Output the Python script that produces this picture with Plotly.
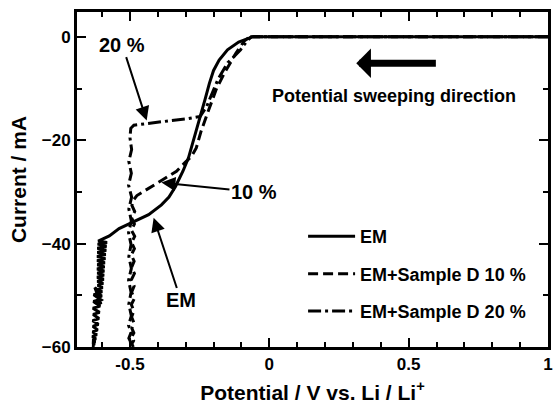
import plotly.graph_objects as go

# Linear sweep voltammetry curves (potential in V vs. Li/Li+, current in mA)
em_x = [1.0, -0.060, -0.070, -0.110, -0.150, -0.180, -0.200, -0.215, -0.230,
        -0.245, -0.260, -0.273, -0.290, -0.310, -0.337, -0.360, -0.387, -0.433,
        -0.493, -0.539, -0.574, -0.603,
        -0.614, -0.582, -0.616, -0.584, -0.617, -0.585, -0.617, -0.587, -0.618,
        -0.588, -0.618, -0.590, -0.617, -0.591, -0.618, -0.592, -0.617, -0.593,
        -0.618, -0.594, -0.617, -0.596, -0.616, -0.598, -0.617, -0.600, -0.616,
        -0.601, -0.615, -0.603, -0.614, -0.604, -0.626, -0.605, -0.630, -0.606,
        -0.631, -0.607, -0.633, -0.609, -0.632, -0.611, -0.634, -0.613, -0.633,
        -0.616, -0.634, -0.619, -0.635, -0.622, -0.634, -0.624, -0.635, -0.626,
        -0.634, -0.628, -0.635, -0.630, -0.634]
em_y = [0.0, 0.0, -0.2, -1.0, -2.5, -4.5, -6.5, -9.0, -12.0,
        -14.8, -17.5, -20.2, -23.4, -26.0, -29.0, -31.0, -32.5, -34.4,
        -35.9, -37.1, -38.5, -39.2,
        -39.5, -39.8, -40.1, -40.5, -40.9, -41.3, -41.7, -42.1, -42.5,
        -42.9, -43.3, -43.7, -44.1, -44.5, -44.9, -45.3, -45.7, -46.1,
        -46.5, -46.9, -47.3, -47.7, -48.1, -48.5, -48.9, -49.3, -49.7,
        -50.1, -50.5, -50.9, -51.3, -51.7, -48.5, -49.5, -49.9, -50.8,
        -51.2, -52.1, -52.5, -53.3, -53.7, -54.5, -54.9, -55.6, -56.0,
        -56.7, -57.1, -57.6, -58.0, -58.4, -58.7, -59.0, -59.2, -59.4,
        -59.6, -59.7, -59.8, -59.9, -60.0]

d10_x = [1.0, -0.070, -0.090, -0.120, -0.160, -0.190, -0.220, -0.245, -0.262,
         -0.280, -0.300, -0.333, -0.387, -0.433, -0.475, -0.488, -0.493, -0.483,
         -0.494, -0.484, -0.495, -0.483, -0.494, -0.484, -0.495, -0.485, -0.494,
         -0.484, -0.495, -0.485, -0.494, -0.484, -0.495, -0.486, -0.494, -0.485,
         -0.493, -0.486, -0.494, -0.487, -0.493, -0.488]
d10_y = [0.0, 0.0, -0.8, -3.2, -6.9, -10.1, -14.5, -18.3, -21.5,
         -23.2, -24.2, -26.0, -27.8, -29.3, -30.7, -31.6, -32.6, -33.8,
         -35.0, -36.2, -37.4, -38.6, -39.8, -41.0, -42.2, -43.4, -44.6,
         -45.8, -47.0, -48.2, -49.4, -50.6, -51.8, -53.0, -54.2, -55.4,
         -56.4, -57.3, -58.1, -58.8, -59.4, -60.0]

d20_x = [1.0, -0.065, -0.080, -0.103, -0.130, -0.149, -0.184, -0.210, -0.225,
         -0.248, -0.300, -0.351, -0.433, -0.486, -0.497, -0.500, -0.494, -0.504,
         -0.495, -0.505, -0.494, -0.504, -0.495, -0.505, -0.496, -0.504, -0.495,
         -0.505, -0.496, -0.504, -0.495, -0.505, -0.496, -0.504, -0.497, -0.503,
         -0.498]
d20_y = [0.0, 0.0, -0.8, -2.5, -4.0, -5.0, -8.2, -11.5, -13.5,
         -15.4, -15.9, -16.2, -16.8, -17.1, -17.7, -19.5, -21.8, -24.1,
         -26.4, -28.7, -31.0, -33.3, -35.6, -37.9, -40.2, -42.5, -44.8,
         -47.1, -49.4, -51.7, -54.0, -55.8, -57.2, -58.3, -59.1, -59.6,
         -60.0]

series_names = ["EM", "EM+Sample D 10 %", "EM+Sample D 20 %"]

FONT = "Liberation Sans, Arial, sans-serif"

fig = go.Figure()
for i, (xs, ys, dash) in enumerate([(em_x, em_y, "solid"),
                                    (d10_x, d10_y, "10px,5px"),
                                    (d20_x, d20_y, "13px,4px,3px,4px")]):
    fig.add_trace(go.Scatter(
        x=xs, y=ys, mode="lines", name=series_names[i],
        legendgroup=f"g{i}",
        line=dict(color="black", width=3, dash=dash),
    ))

axis_common = dict(
    showline=True, linewidth=3, linecolor="black", mirror="ticks",
    ticks="inside", ticklen=9, tickwidth=2, tickcolor="black",
    showgrid=False, zeroline=False,
    tickfont=dict(family=FONT, size=17, color="black", weight="bold"),
    title_font=dict(family=FONT, size=21, color="black", weight="bold"),
)

fig.update_xaxes(
    range=[-0.69, 1.0], tickvals=[-0.5, 0, 0.5, 1],
    ticktext=["-0.5", "0", "0.5", "1"],
    minor=dict(dtick=0.1, tick0=0, ticks="inside", ticklen=5, tickwidth=2,
               tickcolor="black"),
    title_text="Potential / V vs. Li / Li<sup>+</sup>", title_standoff=12,
    **axis_common,
)
fig.update_yaxes(
    range=[-60, 4.8], tick0=0, dtick=20,
    minor=dict(dtick=10, tick0=0, ticks="inside", ticklen=5, tickwidth=2,
               tickcolor="black"),
    title_text="Current / mA", title_standoff=10,
    **axis_common,
)

ann_font = dict(family=FONT, size=20, color="black", weight="bold")

# Labelled arrows pointing at each curve
labels = [("20 %", -0.44, -16.2, -0.528, -1.5),
          ("10 %", -0.387, -28.2, -0.055, -30.0),
          ("EM", -0.415, -35.0, -0.317, -51.0)]
for text, tx, ty, lx, ly in labels:
    fig.add_annotation(
        x=tx, y=ty, ax=lx, ay=ly, xref="x", yref="y", axref="x", ayref="y",
        text=text, showarrow=True, arrowhead=2, arrowsize=1.4, arrowwidth=2,
        arrowcolor="black", font=ann_font, standoff=0,
    )

# Sweep direction arrow and caption
fig.add_annotation(
    x=0.312, y=-5.1, ax=0.603, ay=-5.1, xref="x", yref="y", axref="x", ayref="y",
    text="", showarrow=True, arrowhead=1, arrowsize=0.7, arrowwidth=7,
    arrowcolor="black",
)
fig.add_annotation(
    x=0.447, y=-11.4, xref="x", yref="y", text="Potential sweeping direction",
    showarrow=False, font=dict(family=FONT, size=18, color="black", weight="bold"),
)

fig.update_layout(
    width=557, height=405,
    margin=dict(l=77, r=4, t=12, b=53),
    paper_bgcolor="white", plot_bgcolor="white",
    legend=dict(
        x=0.48, y=0.385, xanchor="left", yanchor="top",
        bgcolor="rgba(0,0,0,0)", tracegroupgap=11, itemwidth=47,
        font=dict(family=FONT, size=18, color="black", weight="bold"),
    ),
)

fig.write_html("out.html")
